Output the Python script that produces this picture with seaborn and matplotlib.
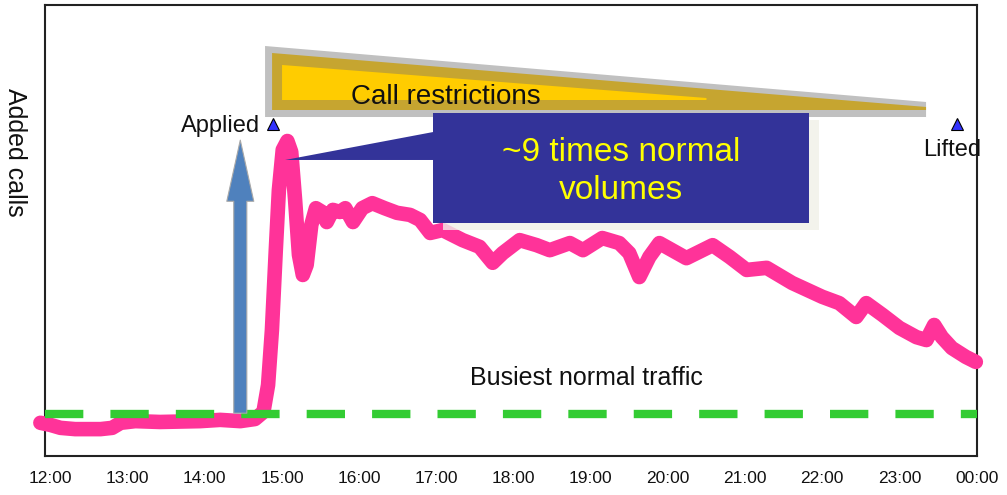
import matplotlib
matplotlib.use("Agg")
import matplotlib.pyplot as plt
import pandas as pd
import seaborn as sns
from matplotlib.patches import Polygon, Rectangle, FancyArrowPatch, ArrowStyle

# ---- data ----
hours = [11.87, 12.0, 12.13, 12.32, 12.65, 12.80, 12.91, 13.10, 13.42, 13.94, 14.20,
         14.46, 14.65, 14.76, 14.82, 14.87, 14.92, 14.96, 15.01, 15.07, 15.12, 15.17,
         15.22, 15.27, 15.32, 15.38, 15.44, 15.52, 15.58, 15.66, 15.75, 15.82, 15.92,
         16.04, 16.17, 16.33, 16.49, 16.66, 16.79, 16.92, 17.08, 17.34, 17.56, 17.73,
         17.86, 18.08, 18.30, 18.47, 18.73, 18.90, 19.15, 19.37, 19.50, 19.63, 19.76,
         19.89, 20.24, 20.58, 20.80, 21.02, 21.28, 21.61, 22.00, 22.22, 22.44, 22.57,
         22.78, 23.00, 23.22, 23.35, 23.45, 23.55, 23.68, 23.86, 23.99]
added_calls = [0.79, 0.74, 0.67, 0.64, 0.64, 0.67, 0.79, 0.83, 0.81, 0.83, 0.86,
               0.83, 0.88, 1.05, 1.69, 3.00, 4.90, 6.33, 7.29, 7.50, 7.24, 6.10,
               4.79, 4.31, 4.55, 5.50, 5.90, 5.81, 5.57, 5.86, 5.81, 5.90, 5.57,
               5.90, 6.02, 5.90, 5.79, 5.74, 5.62, 5.31, 5.38, 5.14, 4.98, 4.60,
               4.83, 5.14, 5.02, 4.90, 5.07, 4.90, 5.19, 5.07, 4.83, 4.26, 4.74,
               5.07, 4.71, 5.02, 4.74, 4.43, 4.48, 4.12, 3.79, 3.64, 3.31, 3.64,
               3.36, 3.05, 2.83, 2.76, 3.12, 2.83, 2.57, 2.36, 2.24]
tick_hours = [12, 13, 14, 15, 16, 17, 18, 19, 20, 21, 22, 23, 24]
tick_labels = ["12:00", "13:00", "14:00", "15:00", "16:00", "17:00", "18:00",
               "19:00", "20:00", "21:00", "22:00", "23:00", "00:00"]
normal_level = 1.0
restriction_times = [14.885, 23.75]
restriction_labels = ["Applied", "Lifted"]

# ---- style ----
sns.set_theme(style="white")
plt.rcParams['font.family'] = ['Liberation Sans', 'DejaVu Sans']

fig = plt.figure(figsize=(10.07, 4.95), dpi=100)
ax = fig.add_axes([0.0447, 0.0788, 0.9255, 0.9111])

df = pd.DataFrame({"hour": hours, "calls": added_calls})
sns.lineplot(data=df, x="hour", y="calls", ax=ax, color="#ff3399", lw=10.5,
             estimator=None, solid_capstyle="round", solid_joinstyle="round",
             clip_on=False, zorder=3)

ax.axhline(normal_level, color="#33cc33", lw=6, dashes=(4.6, 3.25),
           dash_capstyle="butt", zorder=4)

ax.set_xlim(11.93, 24.005)
ax.set_ylim(0, 10.738)
ax.set_xticks(tick_hours)
ax.set_xticklabels(tick_labels, fontsize=12.5)
ax.tick_params(axis="x", length=0, pad=11, colors="#111111")
ax.set_yticks([])
ax.set_xlabel("")
ax.set_ylabel("Added calls", rotation=-90, fontsize=18, va="center", ha="center",
              color="#111111")
ax.yaxis.set_label_coords(-0.032, 0.674)
for s in ax.spines.values():
    s.set_color("#222222")
    s.set_linewidth(1.5)

# call restrictions wedge
ax.add_patch(Polygon([(14.781, 8.071), (14.781, 9.762), (23.345, 8.429), (23.345, 8.071)],
                     closed=True, fc="#c0c0c0", ec="none", zorder=2))
ax.add_patch(Polygon([(14.872, 8.238), (14.872, 9.595), (23.345, 8.31), (23.345, 8.238)],
                     closed=True, fc="#c6a530", ec="none", zorder=2))
ax.add_patch(Polygon([(15.001, 8.476), (15.001, 9.31), (20.5, 8.524), (20.5, 8.476)],
                     closed=True, fc="#ffcc00", ec="none", zorder=2))
ax.text(17.12, 8.55, "Call restrictions", ha="center", va="center", fontsize=20,
        color="#111111", zorder=5)

# callout box
ax.add_patch(Rectangle((16.955 + 0.13, 5.548 - 0.167), 4.877, 2.619,
                       fc="#f1f0e8", ec="none", alpha=0.8, zorder=5))
ax.add_patch(Rectangle((16.955, 5.548), 4.877, 2.619, fc="#333399", ec="none", zorder=6))
ax.add_patch(Polygon([(15.04, 7.048), (16.96, 7.714), (16.96, 7.048)], closed=True,
                     fc="#333399", ec="none", zorder=6))
ax.text(16.955 + 4.877 / 2, 6.78, "~9 times normal\nvolumes", ha="center", va="center",
        fontsize=24, color="#ffff00", linespacing=1.3, zorder=7)

# blue arrow
ax.add_patch(FancyArrowPatch((14.46, 1.02), (14.46, 7.52),
                             arrowstyle=ArrowStyle.Simple(head_length=44, head_width=19.4,
                                                          tail_width=9.4),
                             mutation_scale=1, fc="#4f81bd", ec="#a8a8a8", lw=0.8,
                             shrinkA=0, shrinkB=0, zorder=5))

# restriction markers
ax.plot(restriction_times, [7.9, 7.9], ls="none", marker="^", ms=9, mfc="#3333ff",
        mec="#000000", mew=0.8, zorder=7, clip_on=False)
ax.text(14.717, 7.857, restriction_labels[0], ha="right", va="center", fontsize=17,
        color="#111111", zorder=7)
ax.text(23.688, 7.286, restriction_labels[1], ha="center", va="center", fontsize=17,
        color="#111111", zorder=7)

ax.text(18.95, 1.857, "Busiest normal traffic", ha="center", va="center", fontsize=18,
        color="#111111", zorder=7)

fig.savefig("out.png", dpi=100)
